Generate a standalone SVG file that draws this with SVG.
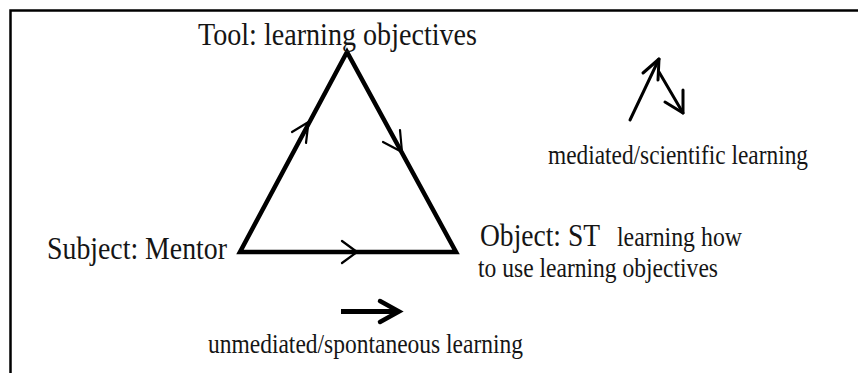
<svg xmlns="http://www.w3.org/2000/svg" width="858" height="373" viewBox="0 0 858 373">
<style>
.big{font-family:"Liberation Serif","Times New Roman",serif;font-size:32px;fill:#151515}
.small{font-family:"Liberation Serif","Times New Roman",serif;font-size:27px;fill:#151515}
.edge{fill:none;stroke:#000;stroke-width:4.5;stroke-linejoin:miter;stroke-linecap:square}
.head{fill:none;stroke:#000;stroke-width:2.2;stroke-linecap:round;stroke-linejoin:round}
.arrow{fill:none;stroke:#000;stroke-width:3;stroke-linecap:round;stroke-linejoin:round}
</style>
<rect width="858" height="373" fill="#fff"/>
<g id="frame">
<path d="M10.5 373 V10.5 H858" fill="none" stroke="#000" stroke-width="2.5"/>
</g>
<g id="connectors">
<path class="edge" d="M347 52 L240 252 L456 252 Z"/>
<path class="head" d="M292 132 L308.5 122 L306 143"/>
<path class="head" d="M383 142 L402 152 L400 130"/>
<path class="head" d="M342 241 L357 252 L342 263"/>
</g>
<g id="node-tool"><text class="big" x="198" y="45" textLength="279" lengthAdjust="spacingAndGlyphs">Tool: learning objectives</text></g>
<g id="node-subject"><text class="big" x="47" y="259" textLength="180" lengthAdjust="spacingAndGlyphs">Subject: Mentor</text></g>
<g id="node-object">
<text class="big" x="480" y="246" textLength="120" lengthAdjust="spacingAndGlyphs">Object: ST</text>
<text class="small" x="617" y="246" textLength="125" lengthAdjust="spacingAndGlyphs">learning how</text>
<text class="small" x="478" y="277" textLength="240" lengthAdjust="spacingAndGlyphs">to use learning objectives</text>
</g>
<g id="legend-mediated">
<path class="arrow" d="M630 120 L659 59"/>
<path class="arrow" d="M643 73 L659 59 L658 80"/>
<path class="arrow" d="M659 72 L683 113"/>
<path class="arrow" d="M665 102 L683 113 L683 90"/>
<text class="small" x="548" y="163.5" textLength="260" lengthAdjust="spacingAndGlyphs">mediated/scientific learning</text>
</g>
<g id="legend-unmediated">
<path d="M341 311.5 H398" fill="none" stroke="#000" stroke-width="5" stroke-linecap="butt"/>
<path d="M380 301 L399 311.5 L380 322" fill="none" stroke="#000" stroke-width="4.5" stroke-linecap="round" stroke-linejoin="miter"/>
<text class="small" x="208" y="353" textLength="315" lengthAdjust="spacingAndGlyphs">unmediated/spontaneous learning</text>
</g>
</svg>
